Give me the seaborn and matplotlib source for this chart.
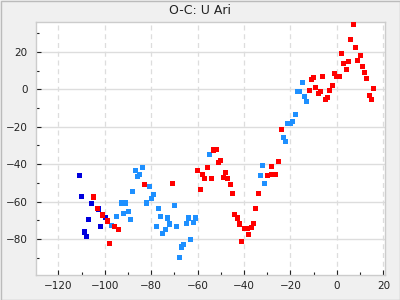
import matplotlib
matplotlib.use("Agg")
import matplotlib.pyplot as plt
from matplotlib.ticker import MultipleLocator
import seaborn as sns
import pandas as pd

title = "O-C: U Ari"

navy_x = [-111.0, -110.1, -105.8, -102.6, -107.1, -99.8, -101.9, -108.8, -108.0]
navy_y = [-45.9, -57.1, -61.2, -64.0, -69.4, -68.3, -73.1, -76.2, -78.5]

blue_x = [-83.8, -86.8, -85.1, -86.0, -80.8, -88.1, -79.1, -80.0, -82.1, -92.9,
          -91.2, -89.9, -92.0, -95.0, -89.0, -97.2, -76.9, -76.1, -73.1, -70.0,
          -72.2, -77.8, -73.9, -69.2, -75.2, -67.9, -64.0, -64.9, -61.9, -61.0,
          -63.2, -66.2, -67.0, -55.0, -32.1, -33.0, -31.3, -21.2, -23.1, -22.2,
          -14.9, -17.1, -16.2, -14.0, -13.2, -17.9, -19.2, -20.1]
blue_y = [-41.6, -43.2, -45.4, -46.4, -51.8, -54.4, -56.0, -58.2, -60.8, -60.8,
          -60.8, -65.1, -66.2, -67.8, -69.4, -72.6, -63.5, -67.8, -68.8, -61.9,
          -72.0, -73.1, -74.7, -73.1, -76.9, -89.7, -68.8, -71.5, -71.0, -68.8,
          -80.1, -82.7, -84.3, -34.7, -40.6, -45.9, -50.2, -18.5, -25.6, -27.7,
          3.8, -1.1, -1.1, -3.7, -6.4, -13.3, -17.1, -18.1]

red_x = [-104.9, -103.1, -101.1, -98.9, -95.9, -94.2, -98.0, -83.0, -70.9, -53.2,
         -52.0, -51.1, -50.2, -55.8, -60.1, -58.0, -57.1, -54.1, -48.1, -48.9,
         -47.2, -45.9, -58.8, -45.1, -24.0, -25.2, -28.3, -30.0, -28.2, -26.4,
         -33.9, -35.2, -44.2, -42.9, -42.0, -39.9, -38.6, -36.9, -36.0, -38.2,
         -41.2, 7.1, 5.8, 7.9, 1.9, 10.1, 8.8, 2.8, 4.9, 10.9,
         4.0, 11.8, -1.1, -0.3, 1.0, -6.3, -10.2, -11.0, 12.7, -2.0,
         -9.3, -11.9, -3.3, -7.2, -8.0, 15.7, 14.0, 14.8, -4.1, -5.0]
red_y = [-57.6, -63.5, -67.2, -70.4, -73.5, -74.7, -82.2, -50.7, -50.2, -32.5,
         -32.0, -39.0, -37.9, -41.6, -43.2, -45.4, -47.5, -47.5, -44.3, -47.0,
         -47.5, -50.7, -53.4, -55.5, -21.3, -38.4, -41.1, -45.9, -45.4, -45.4,
         -55.5, -63.5, -66.7, -68.8, -72.0, -74.2, -74.2, -73.7, -71.5, -77.4,
         -81.1, 34.7, 26.7, 22.4, 19.2, 18.2, 15.5, 13.9, 15.0, 12.3,
         10.7, 9.1, 8.6, 7.0, 7.0, 7.0, 6.4, 5.4, 5.9, 2.2,
         1.1, -0.5, -0.5, -1.1, -2.1, 0.5, -3.2, -5.3, -4.3, -5.3]

df = pd.concat([
    pd.DataFrame({"x": navy_x, "y": navy_y, "s": "navy"}),
    pd.DataFrame({"x": blue_x, "y": blue_y, "s": "blue"}),
    pd.DataFrame({"x": red_x, "y": red_y, "s": "red"}),
], ignore_index=True)

palette = {"navy": "#0000dd", "blue": "#1e90ff", "red": "#ff0000"}

sns.set_style("white")
plt.rcParams['font.family'] = ['DejaVu Sans']

fig = plt.figure(figsize=(4, 3), dpi=100, facecolor="#f0f0f0")
ax = fig.add_axes([36/400, 1-275/300, (385-36)/400, (275-22)/300])
ax.set_facecolor("white")

ax.xaxis.grid(True, color="#dddddd", linestyle=(0, (4, 3)), linewidth=0.9)
ax.yaxis.grid(True, color="#dddddd", linestyle="-", linewidth=1.0)
ax.set_axisbelow(True)

sns.scatterplot(data=df, x="x", y="y", hue="s", palette=palette, marker="s",
                s=14, linewidth=0, legend=False, ax=ax, zorder=3)

ax.set_xlim(-129.6, 20.7)
ax.set_ylim(-99.2, 35.9)
ax.xaxis.set_major_locator(MultipleLocator(20))
ax.xaxis.set_minor_locator(MultipleLocator(10))
ax.yaxis.set_major_locator(MultipleLocator(20))
ax.yaxis.set_minor_locator(MultipleLocator(10))
ax.tick_params(which="major", direction="in", length=3.5, width=0.8, color="#222222",
               labelsize=7.5, labelcolor="#222222", pad=6, bottom=True, left=True,
               top=False, right=False)
ax.tick_params(which="minor", direction="in", length=2.2, width=0.8, color="#222222",
               bottom=True, left=True, top=False, right=False)
ax.tick_params(axis="x", which="major", pad=4)
ax.set_xlabel("")
ax.set_ylabel("")
for sp in ax.spines.values():
    sp.set_color("#cccccc")
    sp.set_linewidth(1.0)

fig.text(0.5, 1-11/300, title, ha="center", va="center", fontsize=9, color="#222222")

border = plt.Rectangle((0.5/400, 0.5/300), 399/400, 299/300, transform=fig.transFigure,
                       fill=False, edgecolor="#bbbbbb", linewidth=1.0)
fig.patches.append(border)

fig.savefig("out.png", dpi=100, facecolor=fig.get_facecolor())
